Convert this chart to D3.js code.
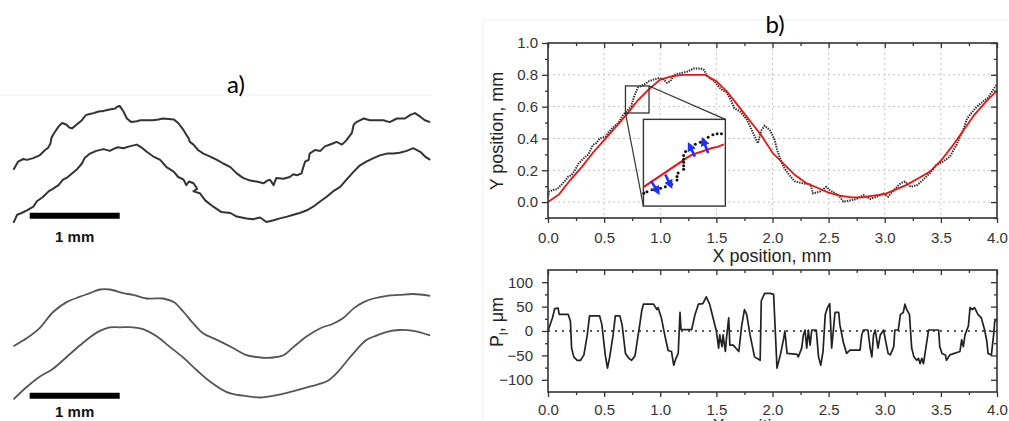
<!DOCTYPE html>
<html>
<head>
<meta charset="utf-8">
<script src="https://cdn.jsdelivr.net/npm/d3@7"></script>
<style>
body { margin: 0; background: #fff; }
svg { display: block; }
</style>
</head>
<body>
<svg id="fig" width="1009" height="421"></svg>
<script>
// ---- panel a) traced contours, [x, y] in mm ----
const roughUpper = [[0.15,1.22],[0.20,1.13],[0.26,1.10],[0.30,1.11],[0.37,1.09],[0.44,1.06],[0.47,1.03],[0.50,1.00],[0.53,0.98],[0.56,0.93],[0.57,0.87],[0.59,0.83],[0.61,0.80],[0.65,0.74],[0.69,0.70],[0.74,0.72],[0.77,0.75],[0.80,0.76],[0.85,0.72],[0.91,0.67],[0.93,0.64],[0.96,0.61],[1.00,0.60],[1.04,0.59],[1.07,0.58],[1.11,0.57],[1.14,0.57],[1.17,0.56],[1.22,0.55],[1.28,0.54],[1.30,0.52],[1.33,0.51],[1.37,0.57],[1.41,0.65],[1.46,0.69],[1.52,0.68],[1.56,0.67],[1.59,0.67],[1.70,0.67],[1.76,0.66],[1.81,0.65],[1.93,0.66],[1.98,0.70],[2.04,0.78],[2.07,0.83],[2.09,0.86],[2.11,0.91],[2.15,0.94],[2.20,1.00],[2.26,1.04],[2.33,1.07],[2.41,1.11],[2.48,1.15],[2.56,1.19],[2.63,1.26],[2.70,1.31],[2.78,1.34],[2.85,1.35],[2.93,1.37],[2.97,1.34],[3.00,1.33],[3.04,1.39],[3.07,1.31],[3.15,1.32],[3.22,1.30],[3.26,1.27],[3.30,1.28],[3.35,1.26],[3.37,1.19],[3.39,1.13],[3.43,1.11],[3.44,1.04],[3.50,1.00],[3.56,1.01],[3.61,0.96],[3.69,0.93],[3.74,0.91],[3.80,0.94],[3.85,0.89],[3.91,0.81],[3.93,0.72],[3.96,0.69],[4.00,0.67],[4.04,0.65],[4.11,0.67],[4.19,0.67],[4.26,0.67],[4.33,0.69],[4.41,0.65],[4.50,0.65],[4.56,0.61],[4.61,0.59],[4.67,0.63],[4.72,0.67],[4.78,0.69]];
const roughLower = [[0.15,1.81],[0.19,1.72],[0.24,1.70],[0.30,1.67],[0.37,1.63],[0.41,1.57],[0.48,1.52],[0.54,1.46],[0.59,1.43],[0.65,1.39],[0.70,1.33],[0.74,1.31],[0.80,1.26],[0.85,1.22],[0.91,1.15],[0.94,1.09],[1.00,1.04],[1.07,1.01],[1.15,0.99],[1.22,1.01],[1.28,0.98],[1.31,0.97],[1.37,0.98],[1.44,0.96],[1.52,0.94],[1.57,0.97],[1.63,1.02],[1.70,1.07],[1.78,1.11],[1.85,1.19],[1.93,1.24],[1.98,1.30],[2.04,1.33],[2.07,1.39],[2.10,1.35],[2.15,1.37],[2.19,1.43],[2.15,1.46],[2.22,1.48],[2.28,1.56],[2.37,1.63],[2.46,1.69],[2.56,1.70],[2.63,1.74],[2.74,1.76],[2.81,1.77],[2.89,1.75],[2.96,1.80],[3.04,1.78],[3.11,1.76],[3.19,1.74],[3.26,1.72],[3.33,1.70],[3.41,1.67],[3.48,1.63],[3.56,1.57],[3.63,1.52],[3.70,1.46],[3.78,1.41],[3.85,1.33],[3.93,1.24],[4.00,1.17],[4.07,1.13],[4.15,1.09],[4.22,1.06],[4.30,1.04],[4.37,1.04],[4.44,1.03],[4.52,1.01],[4.59,0.98],[4.67,1.02],[4.72,1.07],[4.78,1.11]];
const smoothUpper = [[0.15,1.18],[0.30,1.09],[0.44,0.98],[0.59,0.80],[0.74,0.69],[0.89,0.63],[1.00,0.59],[1.11,0.55],[1.22,0.55],[1.37,0.59],[1.48,0.61],[1.63,0.65],[1.81,0.65],[1.93,0.69],[2.04,0.80],[2.15,0.93],[2.26,1.04],[2.41,1.11],[2.59,1.20],[2.74,1.28],[2.85,1.30],[2.96,1.31],[3.07,1.30],[3.15,1.28],[3.26,1.19],[3.41,1.07],[3.56,0.98],[3.70,0.93],[3.81,0.87],[3.93,0.76],[4.04,0.69],[4.15,0.65],[4.30,0.62],[4.44,0.61],[4.59,0.60],[4.78,0.62]];
const smoothLower = [[0.15,1.77],[0.30,1.63],[0.44,1.52],[0.59,1.43],[0.74,1.30],[0.89,1.17],[1.00,1.08],[1.11,1.01],[1.22,0.97],[1.33,0.97],[1.48,0.97],[1.59,0.99],[1.74,1.07],[1.89,1.19],[2.04,1.31],[2.19,1.45],[2.33,1.57],[2.52,1.69],[2.70,1.73],[2.89,1.75],[3.04,1.73],[3.22,1.69],[3.44,1.63],[3.63,1.57],[3.74,1.48],[3.85,1.35],[3.96,1.22],[4.07,1.11],[4.19,1.06],[4.30,1.02],[4.44,1.00],[4.59,1.01],[4.78,1.06]];
const barStart = 0.33, barLength = 1, barY = 1.73, barText = "1 mm";

// ---- panel b) top: measured edge and fitted line ----
const edgeX = [0.00,0.01,0.04,0.08,0.12,0.16,0.18,0.21,0.24,0.27,0.31,0.36,0.40,0.43,0.46,0.51,0.54,0.58,0.63,0.67,0.70,0.74,0.77,0.80,0.86,0.90,0.94,0.99,1.03,1.06,1.09,1.12,1.18,1.24,1.30,1.36,1.39,1.42,1.48,1.54,1.59,1.63,1.66,1.71,1.77,1.83,1.87,1.90,1.93,1.98,2.02,2.04,2.07,2.10,2.16,2.20,2.26,2.34,2.36,2.42,2.48,2.51,2.56,2.60,2.63,2.69,2.75,2.81,2.87,2.93,2.99,3.03,3.08,3.14,3.18,3.23,3.29,3.34,3.40,3.46,3.52,3.58,3.64,3.70,3.73,3.76,3.82,3.88,3.92,3.97,4.00];
const edgeY = [0.03,0.065,0.076,0.08,0.11,0.14,0.16,0.17,0.20,0.24,0.27,0.30,0.36,0.37,0.40,0.41,0.44,0.47,0.50,0.55,0.57,0.60,0.67,0.72,0.74,0.76,0.77,0.78,0.77,0.75,0.76,0.80,0.81,0.82,0.84,0.84,0.83,0.79,0.76,0.71,0.69,0.64,0.59,0.57,0.52,0.43,0.37,0.45,0.48,0.45,0.39,0.33,0.27,0.22,0.16,0.13,0.12,0.11,0.055,0.065,0.096,0.075,0.055,0.034,0.003,0.01,0.02,0.044,0.02,0.034,0.055,0.034,0.075,0.118,0.129,0.096,0.107,0.139,0.181,0.234,0.255,0.286,0.36,0.456,0.52,0.55,0.60,0.635,0.656,0.71,0.74];
const fitX = [0.0,0.1,0.2,0.3,0.4,0.5,0.6,0.7,0.8,0.9,1.0,1.1,1.2,1.3,1.4,1.5,1.6,1.7,1.8,1.9,2.0,2.1,2.2,2.3,2.4,2.5,2.6,2.7,2.8,2.9,3.0,3.1,3.2,3.3,3.4,3.5,3.6,3.7,3.8,3.9,4.0];
const fitY = [0.0,0.05,0.14,0.22,0.31,0.39,0.47,0.55,0.64,0.71,0.77,0.79,0.80,0.80,0.80,0.76,0.69,0.60,0.51,0.42,0.31,0.24,0.17,0.12,0.09,0.06,0.04,0.03,0.03,0.04,0.05,0.08,0.11,0.15,0.19,0.26,0.35,0.45,0.55,0.63,0.70];

// zoomed window and where it is shown (mm)
const zoomX = [0.69, 0.90], zoomY = [0.56, 0.73];
const insetX = [0.85, 1.58], insetY = [-0.025, 0.52];
const insetFitX = [0.690,0.789,0.793,0.815,0.840,0.866,0.880,0.896];
const insetFitY = [0.597,0.648,0.651,0.661,0.667,0.674,0.676,0.681];
const insetDotX = [0.691,0.699,0.712,0.734,0.746,0.762,0.776,0.776,0.779,0.793,0.793,0.793,0.793,0.793,0.798,0.810,0.823,0.836,0.844,0.856,0.868,0.879,0.890];
const insetDotY = [0.585,0.588,0.592,0.595,0.598,0.603,0.611,0.618,0.625,0.632,0.639,0.646,0.652,0.659,0.667,0.674,0.681,0.685,0.690,0.695,0.700,0.702,0.702];
const arrows = [[0.710,0.609,0.727,0.588],[0.746,0.622,0.760,0.600],[0.822,0.657,0.808,0.679],[0.856,0.664,0.843,0.689]];

// ---- panel b) bottom: deviation P_l, µm ----
const devX = [0.00,0.04,0.06,0.09,0.10,0.18,0.20,0.21,0.23,0.26,0.29,0.32,0.35,0.37,0.46,0.48,0.51,0.53,0.55,0.58,0.60,0.64,0.66,0.69,0.72,0.745,0.775,0.82,0.835,0.85,0.94,0.97,0.98,1.01,1.04,1.07,1.10,1.12,1.14,1.16,1.176,1.185,1.28,1.31,1.34,1.38,1.41,1.44,1.47,1.50,1.52,1.53,1.55,1.56,1.58,1.59,1.61,1.62,1.65,1.70,1.725,1.75,1.77,1.80,1.84,1.89,1.90,1.93,1.98,2.01,2.04,2.07,2.10,2.11,2.13,2.22,2.23,2.26,2.275,2.29,2.305,2.32,2.335,2.35,2.39,2.41,2.43,2.45,2.47,2.49,2.51,2.527,2.54,2.557,2.59,2.60,2.63,2.66,2.69,2.78,2.795,2.81,2.85,2.87,2.885,2.90,2.915,2.94,2.96,2.99,3.00,3.03,3.05,3.08,3.09,3.12,3.14,3.165,3.18,3.195,3.22,3.24,3.26,3.285,3.30,3.315,3.33,3.345,3.37,3.39,3.48,3.49,3.51,3.54,3.55,3.58,3.67,3.685,3.70,3.715,3.745,3.76,3.78,3.80,3.83,3.86,3.89,3.91,3.92,3.95,3.97,3.98,4.00];
const devY = [0,27,46,47,34,34,20,-35,-53,-60,-60,-49,-8,31,31,13,-49,-76,-53,-8,31,31,13,-46,-56,-60,-51,17,41,55,55,44,48,27,-8,-40,-42,-70,-56,-46,38,3,3,34,55,56,70,55,27,0,-35,-8,-32,-8,-42,-15,27,-29,-29,-42,10,44,34,-8,-53,-60,62,77,77,75,-76,-49,-15,0,-46,-48,-53,-35,-8,2,-35,2,-29,2,2,-53,-70,-42,34,48,56,-35,-4,38,38,13,-22,-46,-39,-39,-8,2,2,-35,-53,-8,2,-35,-8,2,-11,-46,-49,-32,2,2,34,38,55,44,34,-35,-53,-60,-56,-67,-56,-67,-29,2,2,-32,-46,-49,-60,-49,-42,-18,-32,-8,10,48,44,48,34,27,2,-22,-46,-49,-8,20,24];

const xMajor = [0,0.5,1,1.5,2,2.5,3,3.5,4];
const xMinor = [0.25,0.75,1.25,1.75,2.25,2.75,3.25,3.75];
const yTopMajor = [0,0.2,0.4,0.6,0.8,1.0];
const yTopMinor = [-0.1,0.1,0.3,0.5,0.7,0.9];
const yTopGrid = [0,0.2,0.4,0.6,0.8];
const yBotMajor = [-100,-50,0,50,100];
const yBotMinor = [-75,-25,25,75];

const svg = d3.select("#fig");
const axisFont = "'Liberation Sans', Arial, sans-serif";

// faint borders of the original figure panels
svg.append("line").attr("x1", 0).attr("x2", 432).attr("y1", 95).attr("y2", 95)
    .attr("stroke", "#ececec").attr("stroke-width", 1);
svg.append("line").attr("x1", 483).attr("x2", 483).attr("y1", 20).attr("y2", 421)
    .attr("stroke", "#f0f0f0").attr("stroke-width", 1);
svg.append("line").attr("x1", 483).attr("x2", 1009).attr("y1", 20).attr("y2", 20)
    .attr("stroke", "#f0f0f0").attr("stroke-width", 1);

// ---------------- panel a) ----------------
const mmX = d3.scaleLinear().domain([0, 1]).range([0, 90]);
const mmYTop = d3.scaleLinear().domain([0, 1]).range([60, 150]);
const mmYBot = d3.scaleLinear().domain([0, 1]).range([240, 330]);

svg.append("text").attr("x", 236).attr("y", 93).attr("text-anchor", "middle")
    .attr("font-family", "Lato, 'Open Sans', sans-serif").attr("font-size", 24)
    .text("a)");

function drawContours(yScale, curves, curve, color, w, textGap) {
    const line = d3.line().x(d => mmX(d[0])).y(d => yScale(d[1])).curve(curve);
    curves.forEach(c => {
        svg.append("path").attr("d", line(c)).attr("fill", "none")
            .attr("stroke", color).attr("stroke-width", w)
            .attr("stroke-linejoin", "round");
    });
    svg.append("line")
        .attr("x1", mmX(barStart)).attr("x2", mmX(barStart + barLength))
        .attr("y1", yScale(barY)).attr("y2", yScale(barY))
        .attr("stroke", "#000").attr("stroke-width", 6);
    svg.append("text")
        .attr("x", mmX(barStart + barLength / 2)).attr("y", yScale(barY) + textGap)
        .attr("text-anchor", "middle").attr("font-family", axisFont)
        .attr("font-weight", "bold").attr("font-size", 15).attr("fill", "#111")
        .text(barText);
}
drawContours(mmYTop, [roughUpper, roughLower], d3.curveLinear, "#333", 2, 26);
drawContours(mmYBot, [smoothUpper, smoothLower], d3.curveCatmullRom, "#555", 1.8, 21);

// ---------------- panel b) ----------------
const x = d3.scaleLinear().domain([0, 4]).range([548, 997]);
const yTop = d3.scaleLinear().domain([-0.1, 1.0]).range([218, 43]);
const yBot = d3.scaleLinear().domain([-125, 125]).range([392, 270]);

svg.append("text").attr("x", 775).attr("y", 33).attr("text-anchor", "middle")
    .attr("font-family", "Lato, 'Open Sans', sans-serif").attr("font-size", 24)
    .text("b)");

function styleAxis(g) {
    g.select(".domain").remove();
    g.selectAll("line").attr("stroke", "#333").attr("stroke-width", 1.3);
    g.selectAll("text").attr("font-family", axisFont).attr("font-size", 15).attr("fill", "#333");
}

function drawAxes(y, yMajor, yMinor, yFmt, xPad, yPad) {
    const [yb, yt] = y.range();
    const [xl, xr] = x.range();
    // bottom (outward, labelled)
    svg.append("g").attr("transform", `translate(0,${yb})`)
        .call(d3.axisBottom(x).tickValues(xMajor).tickSize(5).tickPadding(xPad).tickFormat(d3.format(".1f")))
        .call(styleAxis);
    svg.append("g").attr("transform", `translate(0,${yb})`)
        .call(d3.axisBottom(x).tickValues(xMinor).tickSize(3).tickFormat(""))
        .call(styleAxis);
    // top (inward)
    svg.append("g").attr("transform", `translate(0,${yt})`)
        .call(d3.axisBottom(x).tickValues(xMajor).tickSize(5).tickFormat(""))
        .call(styleAxis);
    svg.append("g").attr("transform", `translate(0,${yt})`)
        .call(d3.axisBottom(x).tickValues(xMinor).tickSize(3).tickFormat(""))
        .call(styleAxis);
    // left (outward, labelled)
    svg.append("g").attr("transform", `translate(${xl},0)`)
        .call(d3.axisLeft(y).tickValues(yMajor).tickSize(6).tickPadding(yPad).tickFormat(yFmt))
        .call(styleAxis);
    svg.append("g").attr("transform", `translate(${xl},0)`)
        .call(d3.axisLeft(y).tickValues(yMinor).tickSize(3).tickFormat(""))
        .call(styleAxis);
    // right (inward)
    svg.append("g").attr("transform", `translate(${xr},0)`)
        .call(d3.axisLeft(y).tickValues(yMajor).tickSize(6).tickFormat(""))
        .call(styleAxis);
    svg.append("g").attr("transform", `translate(${xr},0)`)
        .call(d3.axisLeft(y).tickValues(yMinor).tickSize(3).tickFormat(""))
        .call(styleAxis);
    svg.append("rect").attr("x", xl).attr("y", yt).attr("width", xr - xl).attr("height", yb - yt)
        .attr("fill", "none").attr("stroke", "#333").attr("stroke-width", 1.6);
}

// ---- top plot ----
const gridG = svg.append("g");
gridG.selectAll("line.v").data(xMajor.slice(1, -1)).join("line")
    .attr("x1", d => x(d)).attr("x2", d => x(d))
    .attr("y1", yTop(1.0)).attr("y2", yTop(-0.1))
    .attr("stroke", "#c4c4c4").attr("stroke-width", 1).attr("stroke-dasharray", "2,3");
gridG.selectAll("line.h").data(yTopGrid).join("line")
    .attr("x1", x(0)).attr("x2", x(4))
    .attr("y1", d => yTop(d)).attr("y2", d => yTop(d))
    .attr("stroke", "#c4c4c4").attr("stroke-width", 1).attr("stroke-dasharray", "2,3");

const edgeLine = d3.line().x(i => x(edgeX[i])).y(i => yTop(edgeY[i]));
svg.append("path").attr("d", edgeLine(d3.range(edgeX.length)))
    .attr("fill", "none").attr("stroke", "#2a2a2a").attr("stroke-width", 2)
    .attr("stroke-dasharray", "1.4,1.1");

const fitLine = d3.line().x(i => x(fitX[i])).y(i => yTop(fitY[i]));
svg.append("path").attr("d", fitLine(d3.range(fitX.length)))
    .attr("fill", "none").attr("stroke", "#ee1111").attr("stroke-width", 1.8);

drawAxes(yTop, yTopMajor, yTopMinor, d3.format(".1f"), 9, 4);

svg.append("text").attr("x", 772).attr("y", 262).attr("text-anchor", "middle")
    .attr("font-family", axisFont).attr("font-size", 18).attr("fill", "#222")
    .text("X position, mm");
svg.append("text").attr("transform", "translate(503,131) rotate(-90)")
    .attr("text-anchor", "middle").attr("font-family", axisFont)
    .attr("font-size", 18).attr("fill", "#222").text("Y position, mm");

// ---- zoom inset ----
const ix = d3.scaleLinear().domain(zoomX).range([x(insetX[0]), x(insetX[1])]);
const iy = d3.scaleLinear().domain(zoomY).range([yTop(insetY[0]), yTop(insetY[1])]);

const connG = svg.append("g").attr("stroke", "#333").attr("stroke-width", 1.2);
connG.append("line").attr("x1", x(zoomX[1])).attr("y1", yTop(zoomY[1]))
    .attr("x2", x(insetX[1])).attr("y2", yTop(insetY[1]));
connG.append("line").attr("x1", x(zoomX[0])).attr("y1", yTop(zoomY[0]))
    .attr("x2", x(insetX[0])).attr("y2", yTop(insetY[0]));
svg.append("rect").attr("x", x(zoomX[0])).attr("y", yTop(zoomY[1]))
    .attr("width", x(zoomX[1]) - x(zoomX[0])).attr("height", yTop(zoomY[0]) - yTop(zoomY[1]))
    .attr("fill", "none").attr("stroke", "#333").attr("stroke-width", 1.3);

svg.append("rect").attr("x", x(insetX[0])).attr("y", yTop(insetY[1]))
    .attr("width", x(insetX[1]) - x(insetX[0])).attr("height", yTop(insetY[0]) - yTop(insetY[1]))
    .attr("fill", "#fff").attr("stroke", "#333").attr("stroke-width", 1.4);

const insetLine = d3.line().x(i => ix(insetFitX[i])).y(i => iy(insetFitY[i]));
svg.append("path").attr("d", insetLine(d3.range(insetFitX.length)))
    .attr("fill", "none").attr("stroke", "#ee1111").attr("stroke-width", 2);

svg.append("g").selectAll("circle").data(d3.range(insetDotX.length)).join("circle")
    .attr("cx", i => ix(insetDotX[i])).attr("cy", i => iy(insetDotY[i]))
    .attr("r", 1.5).attr("fill", "#111");

svg.append("defs").append("marker").attr("id", "ah")
    .attr("viewBox", "0 0 10 10").attr("refX", 6).attr("refY", 5)
    .attr("markerWidth", 3.5).attr("markerHeight", 3.5).attr("orient", "auto")
    .append("path").attr("d", "M0,0 L10,5 L0,10 z").attr("fill", "#1f2fff");

svg.append("g").selectAll("line").data(arrows).join("line")
    .attr("x1", d => ix(d[0])).attr("y1", d => iy(d[1]))
    .attr("x2", d => ix(d[2])).attr("y2", d => iy(d[3]))
    .attr("stroke", "#1f2fff").attr("stroke-width", 2.6)
    .attr("marker-end", "url(#ah)");

// ---- bottom plot ----
svg.append("line").attr("x1", x(0)).attr("x2", x(4)).attr("y1", yBot(0)).attr("y2", yBot(0))
    .attr("stroke", "#222").attr("stroke-width", 1.5).attr("stroke-dasharray", "2,5");

const devLine = d3.line().x(i => x(devX[i])).y(i => yBot(devY[i]));
svg.append("path").attr("d", devLine(d3.range(devX.length)))
    .attr("fill", "none").attr("stroke", "#222").attr("stroke-width", 1.7)
    .attr("stroke-linejoin", "round");

drawAxes(yBot, yBotMajor, yBotMinor, d3.format("d"), 7, 9);

const pLabel = svg.append("text").attr("transform", "translate(503,322) rotate(-90)")
    .attr("text-anchor", "middle").attr("font-family", axisFont)
    .attr("font-size", 18).attr("fill", "#222");
pLabel.append("tspan").text("P");
pLabel.append("tspan").attr("font-size", 12).attr("dy", 5).text("l");
pLabel.append("tspan").attr("dy", -5).text(", μm");

// axis title of the lower plot, clipped by the picture edge as in the original
svg.append("text").attr("x", 772).attr("y", 432).attr("text-anchor", "middle")
    .attr("font-family", axisFont).attr("font-size", 18).attr("fill", "#222")
    .text("X position, mm");
</script>
</body>
</html>
